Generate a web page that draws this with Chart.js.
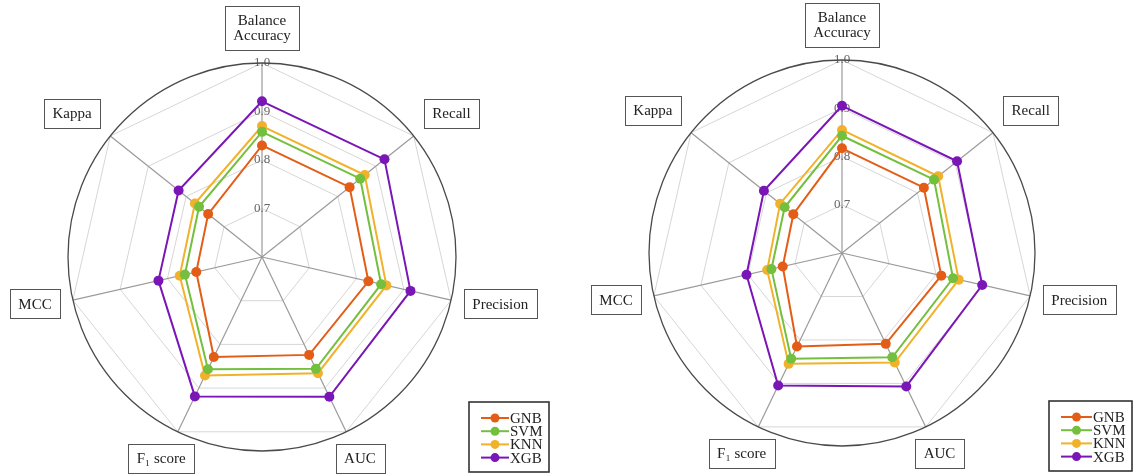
<!DOCTYPE html>
<html>
<head>
<meta charset="utf-8">
<script src="https://cdn.jsdelivr.net/npm/chart.js@4.4.1/dist/chart.umd.min.js"></script>
<style>
  html, body { margin: 0; padding: 0; background: #fff; }
  #wrap { position: relative; width: 1144px; height: 475px; overflow: hidden; }
  canvas { position: absolute; top: 0; }
  #left { left: 0; }
  #right { left: 572px; }
</style>
</head>
<body>
<div id="wrap">
  <canvas id="left" width="572" height="475"></canvas>
  <canvas id="right" width="572" height="475"></canvas>
</div>
<script>
// axes, clockwise from the top
const categories = [['Balance', 'Accuracy'], 'Recall', 'Precision', 'AUC', 'F\u2081 score', 'MCC', 'Kappa'];
const models = ['GNB', 'SVM', 'KNN', 'XGB'];
const colors = ['#e35d17', '#74bf3e', '#f2b12a', '#7a16b6'];

// radial axis: centre is 0.6, ticks every 0.1 up to 1.0
const scaleMin = 0.6;
const scaleMax = 1.0;
const scaleStep = 0.1;

// left panel
const leftGNB = [0.830, 0.831, 0.825, 0.824, 0.829, 0.739, 0.742];
const leftSVM = [0.858, 0.859, 0.852, 0.856, 0.857, 0.763, 0.766];
const leftKNN = [0.870, 0.871, 0.863, 0.866, 0.871, 0.774, 0.777];
const leftXGB = [0.921, 0.923, 0.914, 0.920, 0.919, 0.819, 0.820];

// right panel
const rightGNB = [0.817, 0.817, 0.811, 0.809, 0.815, 0.726, 0.729];
const rightSVM = [0.843, 0.844, 0.836, 0.840, 0.843, 0.750, 0.752];
const rightKNN = [0.855, 0.855, 0.848, 0.852, 0.855, 0.759, 0.764];
const rightXGB = [0.905, 0.905, 0.898, 0.907, 0.905, 0.803, 0.807];

const SERIF = '"Liberation Serif", "DejaVu Serif", serif';

// dark ring at the 1.0 level
const outerRing = {
  id: 'outerRing',
  beforeDatasetsDraw(chart) {
    const s = chart.scales.r;
    const ctx = chart.ctx;
    ctx.save();
    ctx.beginPath();
    ctx.arc(s.xCenter, s.yCenter, s.drawingArea, 0, Math.PI * 2);
    ctx.strokeStyle = '#4a4a4a';
    ctx.lineWidth = 1.3;
    ctx.stroke();
    ctx.restore();
  }
};

const clamp01 = v => Math.max(0, Math.min(1, v));

// axis names in framed boxes, just outside the ring
const boxedLabels = {
  id: 'boxedLabels',
  afterDraw(chart) {
    const s = chart.scales.r;
    const ctx = chart.ctx;
    ctx.save();
    ctx.font = '15px ' + SERIF;
    ctx.textAlign = 'center';
    ctx.textBaseline = 'middle';
    chart.data.labels.forEach((lab, i) => {
      const lines = [].concat(lab);
      const w = Math.max(...lines.map(t => ctx.measureText(t).width)) + 17;
      const h = (lines.length - 1) * 15 + 29;
      const a = s.getIndexAngle(i);
      const sn = Math.sin(a), cs = -Math.cos(a);
      // how far the box hangs to the side / above-below of its anchor
      const kx = Math.sign(sn) * clamp01((Math.abs(sn) - 0.3) / 0.4);
      const ky = Math.sign(cs) * clamp01((Math.abs(cs) - 0.2) / 0.4);
      const p = s.getPointPosition(i, s.drawingArea + 13);
      const bx = p.x + kx * w / 2, by = p.y + ky * h / 2;
      ctx.strokeStyle = '#555';
      ctx.lineWidth = 1;
      ctx.strokeRect(Math.round(bx - w / 2) + 0.5, Math.round(by - h / 2) + 0.5, Math.round(w), Math.round(h));
      ctx.fillStyle = '#222';
      lines.forEach((t, k) => ctx.fillText(t, bx, by - (lines.length - 1) * 7.5 + k * 15 + 1));
    });
    ctx.restore();
  }
};

// framed legend in the lower right corner
const boxedLegend = {
  id: 'boxedLegend',
  afterDraw(chart, args, o) {
    const ctx = chart.ctx;
    ctx.save();
    ctx.strokeStyle = '#333';
    ctx.lineWidth = 1.6;
    ctx.strokeRect(o.x, o.y, o.w, o.h);
    ctx.font = '15px ' + SERIF;
    ctx.textBaseline = 'middle';
    chart.data.datasets.forEach((ds, i) => {
      const yy = o.y + 16 + i * 13.2;
      const x0 = o.x + 12;
      ctx.strokeStyle = ds.borderColor;
      ctx.lineWidth = 2;
      ctx.beginPath();
      ctx.moveTo(x0, yy);
      ctx.lineTo(x0 + o.line, yy);
      ctx.stroke();
      ctx.fillStyle = ds.borderColor;
      ctx.beginPath();
      ctx.arc(x0 + o.line / 2, yy, 4.5, 0, Math.PI * 2);
      ctx.fill();
      ctx.fillStyle = '#222';
      ctx.fillText(ds.label, x0 + o.line + 1, yy + 1);
    });
    ctx.restore();
  }
};

function makeDatasets(series) {
  return series.map((vals, i) => ({
    label: models[i],
    data: vals,
    borderColor: colors[i],
    backgroundColor: colors[i],
    pointBackgroundColor: colors[i],
    pointBorderColor: colors[i],
    borderWidth: 2,
    pointRadius: 5,
    pointBorderWidth: 0,
    fill: false,
    tension: 0
  }));
}

function radar(id, series, cx, cy, radius, legendBox) {
  return new Chart(document.getElementById(id), {
    type: 'radar',
    data: { labels: categories, datasets: makeDatasets(series) },
    options: {
      responsive: false,
      animation: false,
      devicePixelRatio: 1,
      plugins: {
        legend: { display: false },
        tooltip: { enabled: false },
        boxedLegend: legendBox
      },
      scales: {
        r: {
          min: scaleMin,
          max: scaleMax,
          ticks: {
            stepSize: scaleStep,
            showLabelBackdrop: false,
            color: '#666',
            font: { family: SERIF, size: 13 },
            callback: v => v.toFixed(1)
          },
          grid: { color: '#d6d6d6', lineWidth: 1 },
          angleLines: { color: '#9a9a9a', lineWidth: 1.2 },
          pointLabels: { display: false },
          // pin the polar centre and radius to the panel layout
          afterFit(scale) {
            scale.xCenter = cx;
            scale.yCenter = cy;
            scale.drawingArea = radius;
          }
        }
      }
    },
    plugins: [outerRing, boxedLabels, boxedLegend]
  });
}

radar('left', [leftGNB, leftSVM, leftKNN, leftXGB], 262, 257, 194,
  { x: 469, y: 402, w: 80, h: 70, line: 28 });
radar('right', [rightGNB, rightSVM, rightKNN, rightXGB], 270, 253, 193,
  { x: 477, y: 401, w: 83, h: 70, line: 31 });
</script>
</body>
</html>
